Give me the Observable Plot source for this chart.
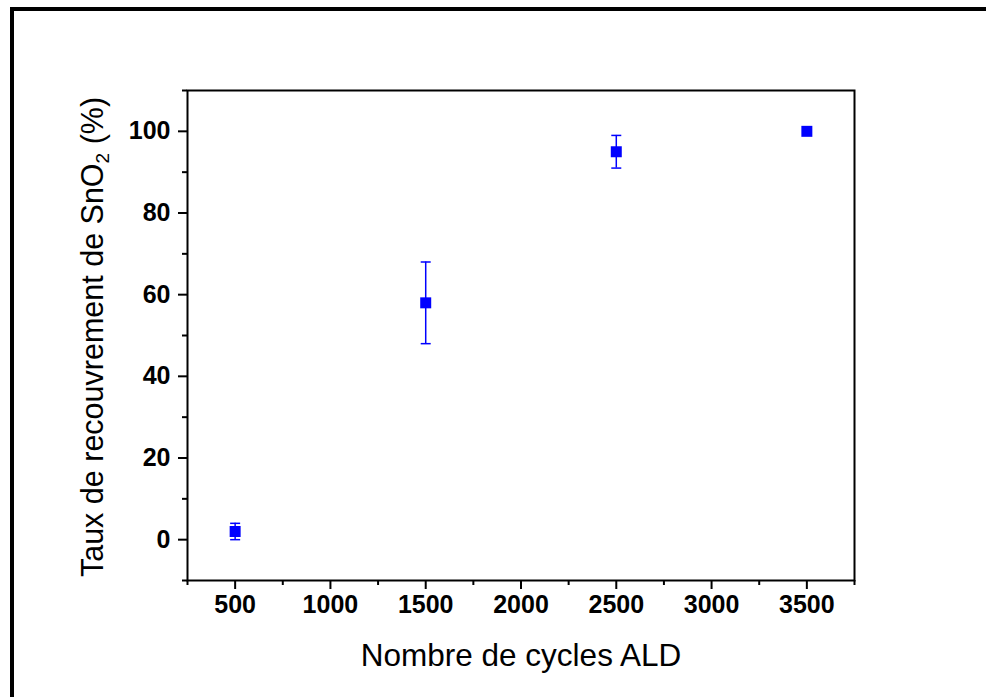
<!DOCTYPE html>
<html>
<head>
<meta charset="utf-8">
<script src="https://cdn.jsdelivr.net/npm/d3@7"></script>
<script src="https://cdn.jsdelivr.net/npm/@observablehq/plot@0.6"></script>
<style>
  html, body { margin: 0; padding: 0; background: #fff; }
  #wrap { position: relative; width: 986px; height: 697px; overflow: hidden; }
  #frame { position: absolute; left: 10px; top: 7px; right: -10px; bottom: -10px;
           border-left: 4px solid #000; border-top: 4px solid #000; pointer-events: none; }
</style>
</head>
<body>
<div id="wrap"><div id="frame"></div></div>
<script>
const cycles = [500, 1500, 2500, 3500];
const coverage = [2, 58, 95, 100];
const errors = [2, 10, 4, 0];
const xMajorTicks = [500, 1000, 1500, 2000, 2500, 3000, 3500];
const xMinorTicks = [250, 750, 1250, 1750, 2250, 2750, 3250, 3750];
const yMajorTicks = [0, 20, 40, 60, 80, 100];
const yMinorTicks = [-10, 10, 30, 50, 70, 90, 110];
const xTitle = "Nombre de cycles ALD";

const data = cycles.map((c, i) => ({x: c, y: coverage[i], e: errors[i]}));
const withErr = data.filter(d => d.e > 0);

const capSymbol = {
  draw(ctx, size) { ctx.moveTo(-5, 0); ctx.lineTo(5, 0); }
};

const blue = "#0000ff";
const font = "'Liberation Sans', Arial, sans-serif";

const chart = Plot.plot({
  width: 986,
  height: 697,
  marginLeft: 187,
  marginRight: 132,
  marginTop: 90,
  marginBottom: 117,
  style: {fontFamily: font, background: "transparent"},
  x: {domain: [250, 3750]},
  y: {domain: [-10, 110]},
  marks: [
    Plot.frame({stroke: "#000", strokeWidth: 2}),
    Plot.axisX(xMinorTicks, {tickSize: 5, text: null, strokeWidth: 2, label: null}),
    Plot.axisX(xMajorTicks, {tickSize: 9, tickPadding: 6, fontSize: 25, fontWeight: "bold", fill: "#000", strokeWidth: 2, label: null, tickFormat: d => String(d)}),
    Plot.axisY(yMinorTicks, {tickSize: 5, text: null, strokeWidth: 2, label: null}),
    Plot.axisY(yMajorTicks, {tickSize: 9, tickPadding: 8, fontSize: 25, fontWeight: "bold", fill: "#000", strokeWidth: 2, label: null}),
    Plot.ruleX(withErr, {x: "x", y1: d => d.y - d.e, y2: d => d.y + d.e, stroke: blue, strokeWidth: 1.5}),
    Plot.dot(withErr, {x: "x", y: d => d.y - d.e, symbol: capSymbol, stroke: blue, strokeWidth: 1.5, fill: "none"}),
    Plot.dot(withErr, {x: "x", y: d => d.y + d.e, symbol: capSymbol, stroke: blue, strokeWidth: 1.5, fill: "none"}),
    Plot.dot(data, {x: "x", y: "y", symbol: "square", r: 6.2, fill: blue, stroke: "none"})
  ]
});

const svg = d3.select(chart);
// x axis title
svg.append("text")
  .attr("x", 521).attr("y", 658)
  .attr("text-anchor", "middle").attr("dominant-baseline", "middle")
  .attr("font-family", font).attr("font-size", 31.5).attr("fill", "#000")
  .text(xTitle);
// y axis title with subscript
const yt = svg.append("text")
  .attr("transform", "translate(95,337) rotate(-90)")
  .attr("text-anchor", "middle").attr("dominant-baseline", "middle")
  .attr("font-family", font).attr("font-size", 30.5).attr("fill", "#000");
yt.append("tspan").text("Taux de recouvrement de SnO");
yt.append("tspan").attr("font-size", 19).attr("dy", 9).text("2");
yt.append("tspan").attr("dy", -9).text(" (%)");

chart.style.position = "absolute";
chart.style.left = "0";
chart.style.top = "0";
document.getElementById("wrap").appendChild(chart);
</script>
</body>
</html>
